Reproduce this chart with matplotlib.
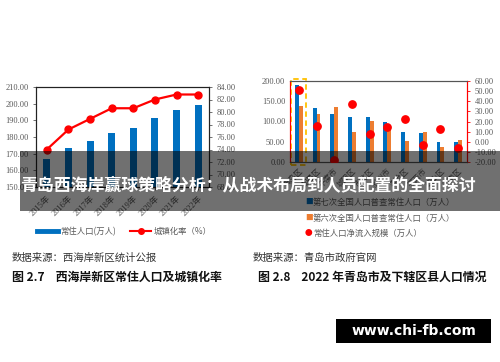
import numpy as np
import matplotlib
matplotlib.use('Agg')
import matplotlib.pyplot as plt
from matplotlib.patches import Rectangle

W, H = 500, 362

# fig 2.7: population and urbanisation, west coast new area
years = ['2015年', '2016年', '2017年', '2018年', '2019年', '2020年', '2021年', '2022年']
population = [167.0, 173.2, 177.5, 182.3, 185.2, 191.3, 196.4, 199.2]
urban_rate = [74.0, 77.2, 78.9, 80.6, 80.6, 82.0, 82.8, 82.8]

# fig 2.8: qingdao districts
districts = ['黄岛区', '即墨区', '平度市', '城阳区', '市北区', '胶州市', '李沧区', '莱西市', '崂山区', '市南区']
census7 = [190.3, 133.8, 119.2, 111.2, 110.3, 98.3, 73.1, 71.2, 49.5, 48.4]
census6 = [139.2, 117.9, 135.7, 73.8, 102.3, 84.3, 51.2, 75.1, 37.9, 54.4]
net_inflow = [51.0, 15.8, -18.0, 37.0, 7.8, 14.3, 22.5, -3.2, 12.2, -6.0]

SERIF = ['Liberation Serif', 'Noto Sans CJK SC']
CJK = ['Noto Sans CJK SC', 'DejaVu Sans']
GRAY = '#595959'
BLUE = '#0070C0'
ORANGE = '#ED7D31'
RED = '#FF0000'


def px(x0, y0, x1, y1):
    # pixel box (top-left origin) to figure fraction
    return [x0 / W, 1 - y1 / H, (x1 - x0) / W, (y1 - y0) / H]


fig = plt.figure(figsize=(W / 100, H / 100), dpi=100)
fig.patch.set_facecolor('white')

# ---- left chart
ax1 = fig.add_axes(px(36, 87, 209, 187))
x1 = np.arange(len(years))
ax1.bar(x1, population, width=0.32, color=BLUE, zorder=2)
ax1.set_xlim(-0.5, len(years) - 0.5)
ax1.set_ylim(150, 210)
ax1.set_yticks(np.arange(150, 211, 10))
ax1.set_yticklabels(['%.2f' % v for v in np.arange(150, 211, 10)])
ax1.set_xticks(x1)
ax1.set_xticklabels(years, rotation=45, ha='right', rotation_mode='anchor')
ax1.tick_params(axis='both', labelsize=6, colors=GRAY, length=2, width=0.6)
for lab in ax1.get_xticklabels() + ax1.get_yticklabels():
    lab.set_fontfamily(SERIF)

ax1r = ax1.twinx()
ax1r.plot(x1, urban_rate, color=RED, lw=1.6, marker='o', ms=5, zorder=3)
ax1r.set_ylim(68, 84)
ax1r.set_yticks(np.arange(68, 85, 2))
ax1r.set_yticklabels(['%.2f' % v for v in np.arange(68, 85, 2)])
ax1r.tick_params(axis='y', labelsize=6, colors=GRAY, length=2, width=0.6)
for lab in ax1r.get_yticklabels():
    lab.set_fontfamily(SERIF)
for a in (ax1, ax1r):
    for s in a.spines.values():
        s.set_color('#222222')
        s.set_linewidth(0.8)

# legend, left chart
fig.add_artist(plt.Line2D([37 / W, 58 / W], [1 - 231.5 / H] * 2, color=BLUE, lw=3.5))
fig.text(60 / W, 1 - 231.5 / H, '常住人口(万人)', fontsize=6, color=GRAY, va='center', family=CJK)
fig.add_artist(plt.Line2D([130 / W, 151 / W], [1 - 231.5 / H] * 2, color=RED, lw=1.5))
fig.add_artist(plt.Line2D([140.5 / W], [1 - 231.5 / H], color=RED, marker='o', ms=4, lw=0))
fig.text(154 / W, 1 - 231.5 / H, '城镇化率（%）', fontsize=6, color=GRAY, va='center', family=CJK)

fig.text(12 / W, 1 - 258 / H, '数据来源：西海岸新区统计公报', fontsize=7.5, color='#333333',
         va='center', family=CJK)
fig.text(12 / W, 1 - 277 / H, '图 2.7    西海岸新区常住人口及城镇化率', fontsize=8.6,
         color='#111111', va='center', fontweight='bold', family=CJK)

# ---- right chart
ax2 = fig.add_axes(px(290, 81, 467, 162))
x2 = np.arange(len(districts))
bw = 0.22
ax2.bar(x2 - bw / 2, census7, width=bw, color=BLUE, zorder=2)
ax2.bar(x2 + bw / 2, census6, width=bw, color=ORANGE, zorder=2)
ax2.set_xlim(-0.5, len(districts) - 0.5)
ax2.set_ylim(0, 200)
ax2.set_yticks(np.arange(0, 201, 50))
ax2.set_yticklabels(['%.2f' % v for v in np.arange(0, 201, 50)])
ax2.set_xticks(x2)
ax2.set_xticklabels(districts, rotation=45, ha='right', rotation_mode='anchor')
ax2.tick_params(axis='y', labelsize=6, colors=GRAY, length=0)
ax2.tick_params(axis='x', labelsize=5.5, colors=GRAY, length=0)
for lab in ax2.get_yticklabels():
    lab.set_fontfamily(SERIF)
for lab in ax2.get_xticklabels():
    lab.set_fontfamily(CJK)

ax2r = ax2.twinx()
ax2r.scatter(x2, net_inflow, s=28, color=RED, zorder=4)
ax2r.set_ylim(-20, 60)
ax2r.set_yticks(np.arange(-20, 61, 10))
ax2r.set_yticklabels(['%.2f' % v for v in np.arange(-20, 61, 10)])
ax2r.tick_params(axis='y', labelsize=6, colors=GRAY, length=2, width=0.6, color=RED)
for lab in ax2r.get_yticklabels():
    lab.set_fontfamily(SERIF)
for a in (ax2, ax2r):
    a.spines['left'].set_color(RED)
    a.spines['right'].set_color(RED)
    a.spines['top'].set_color('#555555')
    a.spines['bottom'].set_color('#555555')
    for s in a.spines.values():
        s.set_linewidth(0.8)

# dashed highlight round the first district
ax2.add_patch(Rectangle((-0.47, -8), 0.9, 212, fill=False, ls=(0, (3, 2)), lw=1.3,
                        ec='#FFC000', clip_on=False, zorder=5))

# legend, right chart
leg2 = [('■', BLUE, '第七次全国人口普查常住人口（万人）', 202),
        ('■', ORANGE, '第六次全国人口普查常住人口（万人）', 218),
        ('●', RED, '常住人口净流入规模（万人）', 233)]
for mark, col, label, yy in leg2:
    fig.text(305 / W, 1 - yy / H, mark, fontsize=5.5, color=col, va='center', family=CJK)
    fig.text(313 / W, 1 - yy / H, label, fontsize=6, color=GRAY, va='center', family=CJK)

fig.text(253 / W, 1 - 258 / H, '数据来源：青岛市政府官网', fontsize=7.5, color='#333333',
         va='center', family=CJK)
fig.text(258 / W, 1 - 277 / H, '图 2.8    2022 年青岛市及下辖区县人口情况', fontsize=8.6,
         color='#111111', va='center', fontweight='bold', family=CJK)

# ---- title banner
fig.add_artist(Rectangle((20 / W, 1 - 211 / H), 480 / W, 60 / H, transform=fig.transFigure,
                         color='black', alpha=0.56, lw=0, zorder=10))
fig.text(20 / W, 1 - 185 / H, '青岛西海岸赢球策略分析：从战术布局到人员配置的全面探讨',
         fontsize=12.2, color='white', fontweight='bold', va='center', family=CJK, zorder=11)

# ---- site stamp
fig.add_artist(Rectangle((336 / W, 1 - 343 / H), 155 / W, 24 / H, transform=fig.transFigure,
                         color='black', lw=0, zorder=10))
fig.text(413.5 / W, 1 - 331 / H, 'www.chi-fb.com', fontsize=10, color='white', fontweight='bold',
         ha='center', va='center', zorder=11)

fig.savefig('out.png', dpi=100)
